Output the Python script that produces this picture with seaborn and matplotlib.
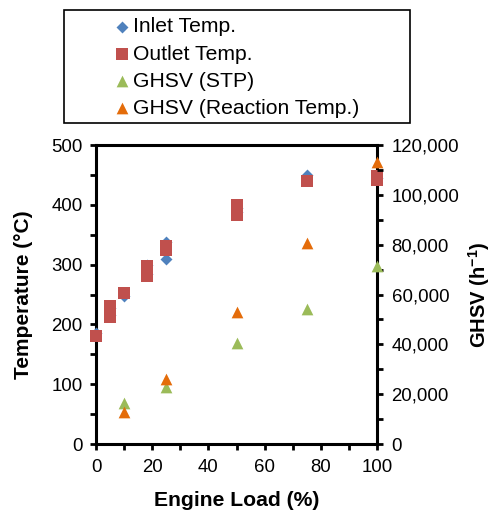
import matplotlib
matplotlib.use("Agg")
import matplotlib.pyplot as plt
from matplotlib.patches import Rectangle
from matplotlib.ticker import MultipleLocator, FuncFormatter
import seaborn as sns
import pandas as pd

# ---- data ----
inlet_load = [0, 5, 5, 10, 18, 18, 25, 25, 50, 50, 75, 100]
inlet_temp = [185, 228, 215, 248, 300, 285, 338, 310, 395, 388, 450, 445]

outlet_load = [0, 5, 5, 10, 18, 18, 25, 25, 50, 50, 75, 100, 100]
outlet_temp = [180, 231, 213, 253, 297, 281, 331, 325, 400, 383, 440, 448, 442]

ghsv_load = [10, 25, 50, 75, 100]
ghsv_stp = [16500, 23000, 40500, 54000, 71500]
ghsv_rxn = [13000, 26000, 53000, 80500, 113000]

labels = ["Inlet Temp.", "Outlet Temp.", "GHSV (STP)", "GHSV (Reaction Temp.)"]
colors = ["#4F81BD", "#C0504D", "#9BBB59", "#E46C0A"]

sns.set_style("ticks")
plt.rcParams["font.family"] = ["Liberation Sans", "DejaVu Sans"]
plt.rcParams["mathtext.fontset"] = "custom"
plt.rcParams["mathtext.rm"] = "Liberation Sans"
plt.rcParams["mathtext.bf"] = "Liberation Sans:bold"
plt.rcParams["text.color"] = "black"
plt.rcParams["axes.labelcolor"] = "black"

W, H = 492, 511
fig = plt.figure(figsize=(W / 100, H / 100), dpi=100)
ax = fig.add_axes([96 / W, (H - 444) / H, (377 - 96) / W, (444 - 145) / H])
ax2 = ax.twinx()

df_in = pd.DataFrame({"load": inlet_load, "temp": inlet_temp})
df_out = pd.DataFrame({"load": outlet_load, "temp": outlet_temp})
df_g = pd.DataFrame({"load": ghsv_load, "stp": ghsv_stp, "rxn": ghsv_rxn})

sns.scatterplot(data=df_in, x="load", y="temp", ax=ax, marker="D", s=37,
                color=colors[0], linewidth=0, label=labels[0], clip_on=False, zorder=3)
sns.scatterplot(data=df_out, x="load", y="temp", ax=ax, marker="s", s=75,
                color=colors[1], linewidth=0, label=labels[1], clip_on=False, zorder=3)
sns.scatterplot(data=df_g, x="load", y="stp", ax=ax2, marker="^", s=71,
                color=colors[2], linewidth=0, label=labels[2], clip_on=False, zorder=3)
sns.scatterplot(data=df_g, x="load", y="rxn", ax=ax2, marker="^", s=71,
                color=colors[3], linewidth=0, label=labels[3], clip_on=False, zorder=3)

for a in (ax, ax2):
    if a.get_legend() is not None:
        a.get_legend().remove()

ax.set_xlim(0, 100)
ax.set_ylim(0, 500)
ax2.set_ylim(0, 120000)

ax.xaxis.set_major_locator(MultipleLocator(20))
ax.xaxis.set_minor_locator(MultipleLocator(10))
ax.yaxis.set_major_locator(MultipleLocator(100))
ax.yaxis.set_minor_locator(MultipleLocator(50))
ax2.yaxis.set_major_locator(MultipleLocator(20000))
ax2.yaxis.set_minor_locator(MultipleLocator(10000))
ax2.yaxis.set_major_formatter(FuncFormatter(lambda v, p: f"{int(v):,}"))

for s in ax.spines.values():
    s.set_visible(True)
    s.set_linewidth(2.2)
    s.set_color("black")
for s in ax2.spines.values():
    s.set_visible(False)

ax.tick_params(axis="both", which="both", direction="out", length=4.5, width=2,
               color="black", labelsize=13.4, labelcolor="black", top=False, right=False)
ax.tick_params(axis="x", pad=6)
ax.tick_params(axis="y", pad=5)
ax2.tick_params(axis="y", which="both", direction="out", length=4.5, width=2,
                color="black", labelsize=13.4, labelcolor="black", right=True, left=False, pad=6)
ax2.tick_params(axis="x", which="both", top=False, bottom=False)

ax.set_xlabel("Engine Load (%)", fontsize=15.2, fontweight="bold", labelpad=11, color="black")
ax.set_ylabel("Temperature (°C)", fontsize=15, fontweight="bold", color="black")
ax.yaxis.set_label_coords(-0.224, 0.5)
ax2.set_ylabel(r"GHSV (h$^{\mathbf{-1}}$)", fontsize=14.5, fontweight="bold", color="black")
ax2.yaxis.set_label_coords(1.318, 0.5)

# legend with its own frame
h1, l1 = ax.get_legend_handles_labels()
h2, l2 = ax2.get_legend_handles_labels()
fig.patches.append(Rectangle((64 / W, 1 - 123 / H), (410 - 64) / W, (123 - 10) / H,
                             transform=fig.transFigure, fill=False, edgecolor="black",
                             linewidth=1.2, zorder=5))
fig.legend(h1 + h2, l1 + l2, loc="upper left", bbox_to_anchor=(116 / W, 1 - 17.5 / H),
           frameon=False, fontsize=15.2, borderpad=0, handlelength=0.6,
           handletextpad=0.22, labelspacing=0.38, borderaxespad=0, markerscale=1.0)

fig.savefig("out.png", dpi=100)
